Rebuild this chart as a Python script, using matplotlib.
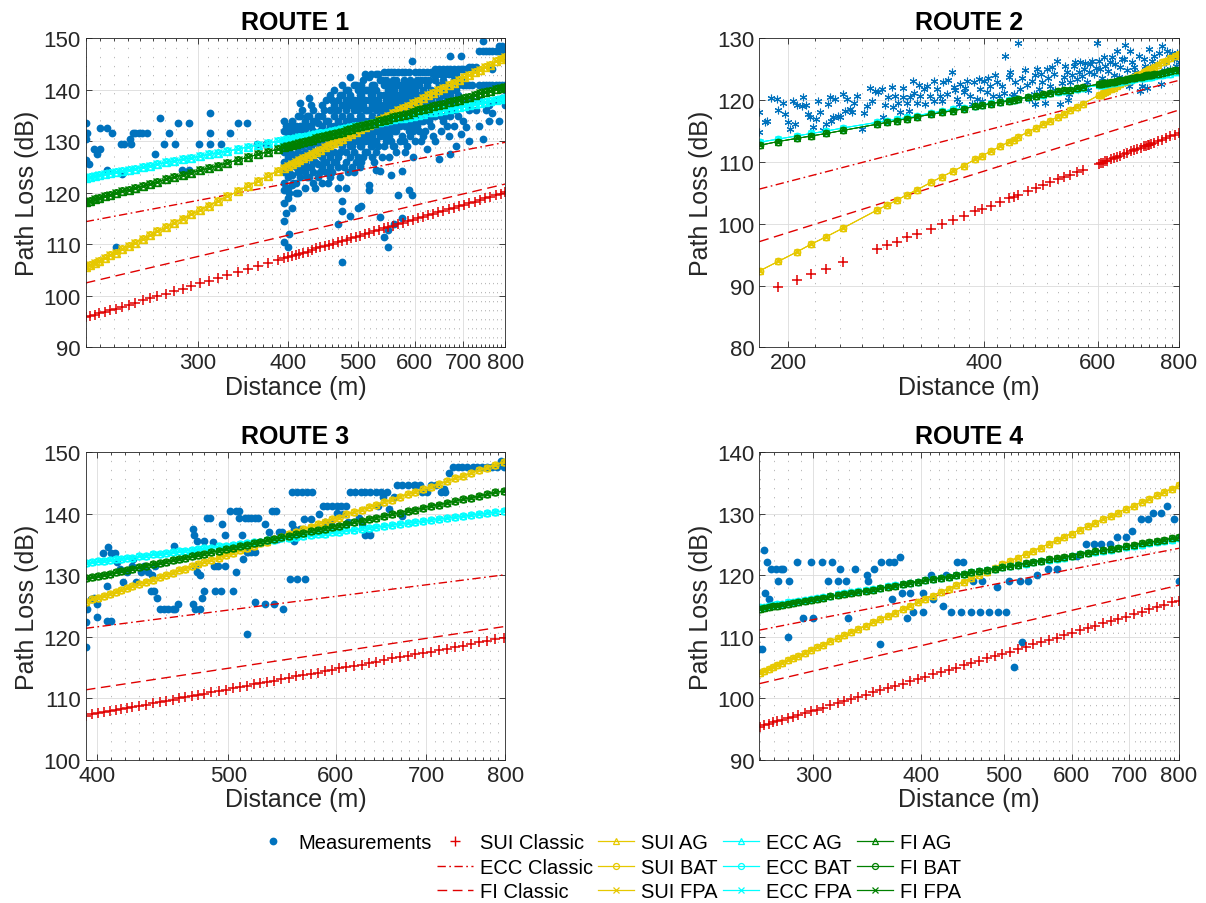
import matplotlib
matplotlib.use('Agg')
import matplotlib.pyplot as plt
from matplotlib.lines import Line2D
from matplotlib.ticker import FixedLocator, NullFormatter

plt.rcParams['font.family'] = ['Liberation Sans', 'DejaVu Sans']

# ---------------- ROUTE 1 ----------------
r1_xlim = (210, 800)
r1_ylim = (90, 150)
r1_xticks = [300, 400, 500, 600, 700, 800]
r1_yticks = [90, 100, 110, 120, 130, 140, 150]

r1_meas_low = [(210, 133.5), (210, 130.4), (211, 131.6), (210, 126.4), (212, 125.5), (215.6, 128.5),
               (217.5, 127.5), (220, 128.5), (220, 132.5), (225, 132.5), (228.6, 131.6), (225, 124.4),
               (235, 129.5), (237, 129.5), (242, 130.4), (244, 131.6), (246, 131.6), (249, 131.6),
               (251.5, 131.6), (255.6, 131.6), (242.5, 129.5), (236, 123.6), (261.6, 127.5), (265.8, 134.5),
               (269.5, 129.5), (274, 131.6), (279, 129.5), (282, 133.5), (285.7, 124.4), (292, 133.5),
               (292, 124.4), (301, 129.5), (312, 135.5), (312, 131.6), (312, 129.5), (323, 129.5),
               (333, 131.6), (341, 133.5), (351.5, 133.5), (363, 129.5), (373, 129.5), (231, 109.5)]

r1_col_d = [395, 400, 405, 410, 416, 422, 428, 434, 440, 446, 452, 458, 464, 470, 476, 482, 488, 494,
            500, 506, 512, 518, 524, 530, 537, 544, 550, 556, 562, 568, 575, 582, 588, 594, 600, 608,
            616, 624, 632, 640, 648, 656, 664, 672, 680, 688, 694, 700, 706, 712, 720, 728, 735, 745,
            752, 760, 768, 776, 784, 792, 800]
r1_col_pl = [
    [134, 132, 130, 128, 126, 124, 122, 120.5, 118, 114.5, 110.5],
    [133, 131, 129, 127, 125, 123, 121, 119, 109.5],
    [134, 132, 130, 127.5, 125.5, 123.5, 121.5, 117],
    [133, 131, 129, 127, 125, 122, 120],
    [137.5, 135, 133, 131, 129, 127, 125, 123],
    [134, 132, 130, 128, 126, 124, 121],
    [138.5, 135, 133, 131, 129, 127, 125, 123],
    [136, 134, 132, 130, 128, 126, 124, 122],
    [135, 133.5, 131.5, 129.5, 127.5, 125.5, 123],
    [137, 135, 133, 131, 129, 127, 125, 122],
    [138, 134, 132, 130, 128, 126, 124],
    [139, 136, 133, 131, 129, 127, 125, 123],
    [140, 137, 135, 133, 131, 128, 126],
    [138, 136, 134, 132, 130, 127, 125, 121, 114],
    [141, 139, 137, 135, 133, 131, 129, 118.5, 116.5, 106.5],
    [140, 138, 136, 134, 132, 130, 128, 126, 121],
    [142.5, 139, 137, 135, 133, 131, 129, 127, 115.5],
    [141, 138, 136, 134, 132, 130, 128, 124],
    [140, 138, 136, 134, 132, 130, 127, 117],
    [141, 139, 137, 135, 133, 131, 129, 126, 117.5],
    [143, 140, 138, 136, 134, 132, 130, 128],
    [142.5, 140, 138, 136, 134, 132, 130, 121.5, 120.5],
    [141, 139, 137, 135, 133, 131, 129, 127],
    [143, 140, 138, 136, 134, 132, 130, 128, 124.5],
    [142, 139, 137, 135, 133, 131, 124.3, 115.3],
    [143.5, 141, 139, 137, 135, 133, 131, 129, 111.5],
    [143.5, 140, 138, 136, 134, 132, 112.7, 109.5],
    [143.5, 141, 139, 137, 135, 133, 130, 123.5],
    [143.5, 140, 138, 136, 134, 132, 129, 114],
    [143.5, 141, 139, 137, 135, 133, 119.5],
    [143.5, 140, 138, 136, 134, 131, 124.3, 115.2],
    [143.5, 141, 139, 137, 135, 133, 128],
    [143.5, 140, 138, 136, 134, 132, 120.5],
    [145.5, 141, 139, 137, 135, 133, 119.5],
    [143.5, 140, 138, 136, 134, 130],
    [143.5, 141, 139, 137, 135, 132],
    [143.5, 140, 138, 136, 134, 131],
    [143.5, 141, 139, 137, 135, 128.5],
    [143.5, 140, 138, 136, 133],
    [144, 142, 139, 137, 135, 130],
    [144, 141, 138, 136, 126.5],
    [144, 142, 139, 137, 134],
    [144, 141, 138, 136, 133],
    [146.5, 144, 141, 139, 135, 127.5],
    [144, 142, 138, 136, 133],
    [144, 141, 139, 135],
    [146.5, 144, 142, 131.5],
    [144, 141, 138, 134],
    [144, 141, 132.7],
    [144.5, 141, 136, 130],
    [144.5, 141, 138],
    [144.5, 136],
    [147.5, 141, 138, 133],
    [149.5, 147.5, 141, 130.5],
    [147.5, 141, 136],
    [147.5, 141, 137, 134],
    [147.5, 144, 141, 135.5],
    [147.5, 141, 138],
    [148.5, 147.5, 141, 134],
    [148.5, 147.5, 141, 138.5],
    [148, 146.5, 141, 140, 137],
]
# points sitting between the columns above (fill of the dense cloud)
r1_fill_d = [398, 402, 407, 413, 419, 425, 431, 437, 443, 449, 455, 461, 467, 473, 479, 485, 491, 497,
             503, 509, 515, 521, 527, 534, 541, 547, 553, 559, 565, 572, 579, 585, 591, 597, 604, 612,
             620, 628, 636, 644, 652, 660, 668, 676, 684]
r1_fill_pl = [
    [133, 129, 125, 121, 116], [132, 128, 124, 120, 112], [133, 129, 126, 122],
    [135, 132, 128, 124, 120], [136, 133, 129, 125], [135, 131, 127, 123],
    [137, 133, 129, 125], [134, 130, 126, 121], [132, 128, 124],
    [136, 130, 126], [134, 128, 122], [138, 132, 124],
    [136, 130, 126], [139, 133, 128, 123], [137, 131, 125],
    [140, 134, 130, 124], [138, 133, 129, 125], [141, 137, 131, 126],
    [139, 135, 129, 125], [142, 137, 133, 127], [140, 136, 131, 128],
    [143, 139, 133, 129], [141, 137, 132, 126], [143, 138, 134, 129],
    [142, 136, 132, 127], [142, 138, 134, 130], [141, 137, 131, 127],
    [142, 139, 135, 129], [142, 138, 132, 128], [141, 137, 133, 130],
    [142, 139, 134, 130], [141, 137, 133, 129], [142, 138, 134, 131],
    [141, 137, 132, 127], [142, 138, 133], [142, 137, 134, 130],
    [142, 139, 136, 132], [142, 138, 134], [143, 139, 135, 131],
    [143, 140, 136], [143, 140, 135, 132], [143, 140, 135],
    [143, 140, 137, 131], [143, 140, 137], [143, 140, 137, 129],
]

r1_d = [210, 213, 216, 219, 223, 227, 231, 236, 241, 246, 252, 258, 264, 271, 278, 286, 294, 302,
        311, 320, 330, 341, 352, 364, 376, 388, 395, 400, 405, 410, 415, 420, 426, 432, 438, 444,
        450, 456, 462, 469, 476, 483, 490, 497, 504, 511, 519, 527, 535, 543, 551, 560, 569, 578,
        587, 596, 606, 616, 626, 636, 646, 657, 668, 679, 690, 702, 714, 726, 738, 750, 763, 776,
        789, 800]
r1_sui = [95.8, 96.1, 96.3, 96.6, 96.9, 97.2, 97.5, 97.9, 98.3, 98.7, 99.1, 99.5, 99.9, 100.4, 100.9,
          101.4, 101.9, 102.4, 102.9, 103.5, 104.0, 104.6, 105.2, 105.8, 106.4, 107.0, 107.3, 107.5,
          107.7, 108.0, 108.2, 108.4, 108.6, 108.9, 109.2, 109.4, 109.6, 109.9, 110.1, 110.4, 110.7,
          110.9, 111.2, 111.5, 111.7, 112.0, 112.2, 112.5, 112.8, 113.1, 113.3, 113.6, 113.9, 114.2,
          114.5, 114.7, 115.1, 115.4, 115.6, 115.9, 116.2, 116.5, 116.8, 117.1, 117.4, 117.7, 118.0,
          118.3, 118.6, 118.9, 119.2, 119.5, 119.8, 120.1]
r1_sui_t = [105.5, 105.9, 106.4, 106.8, 107.3, 107.9, 108.4, 109.1, 109.7, 110.3, 111.1, 111.8, 112.5,
            113.3, 114.1, 115.0, 115.8, 116.6, 117.5, 118.4, 119.3, 120.3, 121.3, 122.3, 123.3, 124.3,
            124.8, 125.2, 125.6, 126.0, 126.3, 126.7, 127.1, 127.6, 128.0, 128.4, 128.8, 129.2, 129.6,
            130.1, 130.5, 131.0, 131.4, 131.8, 132.3, 132.7, 133.2, 133.6, 134.1, 134.6, 135.0, 135.5,
            136.0, 136.5, 136.9, 137.4, 137.9, 138.4, 138.9, 139.4, 139.9, 140.4, 140.9, 141.4, 141.9,
            142.4, 142.9, 143.4, 143.9, 144.4, 144.9, 145.5, 146.0, 146.4]
r1_fi_t = [118.3, 118.5, 118.8, 119.0, 119.3, 119.6, 119.9, 120.3, 120.6, 120.9, 121.3, 121.7, 122.1,
           122.6, 123.0, 123.5, 123.9, 124.4, 124.8, 125.3, 125.8, 126.4, 126.9, 127.5, 128.0, 128.5,
           128.8, 129.0, 129.3, 129.5, 129.7, 129.9, 130.1, 130.3, 130.6, 130.8, 131.0, 131.2, 131.4,
           131.7, 131.9, 132.2, 132.4, 132.7, 132.9, 133.1, 133.4, 133.6, 133.9, 134.1, 134.4, 134.7,
           134.9, 135.2, 135.4, 135.7, 136.0, 136.2, 136.5, 136.8, 137.0, 137.3, 137.6, 137.9, 138.1,
           138.4, 138.7, 139.0, 139.3, 139.5, 139.8, 140.1, 140.4, 140.6]
r1_ecc_t = [122.9, 123.1, 123.2, 123.4, 123.6, 123.8, 124.0, 124.3, 124.5, 124.7, 125.0, 125.3, 125.6,
            125.9, 126.2, 126.5, 126.8, 127.1, 127.5, 127.8, 128.1, 128.5, 128.9, 129.3, 129.7, 130.0,
            130.2, 130.4, 130.5, 130.7, 130.8, 130.9, 131.1, 131.3, 131.4, 131.6, 131.7, 131.9, 132.0,
            132.2, 132.4, 132.6, 132.7, 132.9, 133.0, 133.2, 133.4, 133.6, 133.7, 133.9, 134.1, 134.3,
            134.5, 134.6, 134.8, 135.0, 135.2, 135.4, 135.6, 135.7, 135.9, 136.1, 136.3, 136.5, 136.7,
            136.9, 137.1, 137.3, 137.5, 137.7, 137.9, 138.1, 138.2, 138.4]
r1_edge = [210, 800]
r1_ecc_c = [114.4, 129.8]
r1_fi_c = [102.5, 121.7]

# ---------------- ROUTE 2 ----------------
r2_xlim = (180.5, 800)
r2_ylim = (80, 130)
r2_xticks = [200, 400, 600, 800]
r2_yticks = [80, 90, 100, 110, 120, 130]

r2_meas = [(180.5, 118.1), (180.5, 114.8), (184.2, 116.4), (185.7, 116.7), (187.9, 120.3), (191.9, 120.2),
           (193.1, 118.4), (196.1, 119.6), (200.1, 116.4), (201.3, 115.3), (203.7, 119.9), (206.1, 119.2),
           (209.8, 119.1), (213.1, 119.2), (214.9, 117.8), (216.1, 117.2), (218.7, 115.6), (220.8, 116.9),
           (223.9, 118.0), (226.6, 115.1), (228.5, 116.1), (230.7, 119.4), (232.0, 120.5), (234.8, 117.2),
           (236.1, 120.2), (239.0, 117.5), (240.4, 117.2), (243.3, 121.0), (246.2, 120.2), (248.6, 118.6),
           (250.6, 118.0), (255.1, 120.7), (259.6, 115.3), (264.3, 119.1), (269.0, 119.9), (272.3, 121.5),
           (275.5, 121.3), (278.8, 121.8), (282.1, 119.2), (285.4, 120.5), (288.8, 122.1), (292.3, 120.6),
           (295.7, 119.6), (297.5, 118.0), (301.0, 120.5), (304.6, 119.6), (308.2, 120.5), (311.9, 123.1),
           (315.6, 119.6), (319.4, 120.7), (323.2, 121.8), (327.0, 122.3), (330.9, 120.7), (334.9, 123.1),
           (338.8, 121.8), (342.9, 120.7), (346.9, 122.9), (351.1, 121.0), (357.4, 124.5), (359.5, 122.1),
           (363.8, 120.2), (368.2, 122.6), (372.5, 121.3), (377.0, 123.1), (381.5, 120.7), (386.0, 122.9),
           (390.6, 120.2), (395.2, 121.8), (400, 123.1), (404.8, 121.3), (409.6, 122.3), (416.9, 124.0),
           (421.9, 120.7), (426.9, 122.3), (432.0, 127.2), (437.1, 123.7), (442.3, 120.7), (447.6, 122.9),
           (451.9, 129.2), (455.7, 121.8), (463.9, 124.8), (469.4, 120.2), (474.9, 123.1), (480.5, 124.0),
           (486.3, 121.8), (492.2, 122.9), (497.9, 119.6), (500.9, 125.0), (506.9, 122.3), (512.9, 124.2),
           (519.1, 126.4), (525.3, 119.4), (531.5, 123.7), (537.8, 124.5), (544.2, 122.9), (550.7, 125.6),
           (557.2, 123.4), (563.9, 126.1), (570.6, 125.0), (577.4, 122.9), (584.3, 125.8), (591.2, 124.2),
           (598.3, 129.2), (605.4, 125.0), (612.6, 126.9), (619.9, 122.9), (627.3, 126.1), (634.7, 124.0),
           (642.3, 128.0), (650.0, 125.3), (657.7, 126.7), (661.6, 128.9), (669.5, 122.3), (677.4, 126.1),
           (685.3, 124.5), (693.7, 127.2), (702.0, 122.3), (710.3, 125.6), (718.8, 128.3), (727.4, 126.4),
           (736.1, 124.0), (744.9, 127.7), (753.7, 128.7), (762.7, 126.1), (771.5, 126.9), (781.0, 127.7),
           (790.4, 125.6), (800, 126.1), (697.8, 121.5), (714.5, 121.9), (749.3, 122.6),
           (198, 117.7), (205, 116.2), (211, 120.5), (222, 119.8), (233, 116.6), (245, 118.3), (253, 119.6),
           (262, 117.9), (267, 121.9), (280, 117.3), (290, 118.9), (300, 121.9), (307, 118.3), (313, 121.2),
           (318, 122.5), (325, 119.3), (336, 119.9), (345, 119.8), (353, 123.2), (362, 121.6), (366, 119.4),
           (375, 122.0), (384, 119.4), (393, 123.4), (398, 119.8), (407, 123.6), (413, 120.6), (419, 122.9),
           (430, 121.2), (440, 124.6), (445, 121.0), (458, 123.5), (466, 122.4), (478, 121.0), (484, 125.1),
           (490, 124.2), (503, 123.6), (510, 125.3), (516, 121.6), (528, 122.7), (534, 125.6), (541, 121.0),
           (547, 124.1), (554, 126.2), (561, 124.5), (567, 123.9), (574, 126.0), (581, 124.6), (588, 126.3),
           (595, 125.2), (602, 126.3), (609, 123.6), (616, 125.6), (623, 124.7), (631, 127.0), (638, 125.9),
           (646, 123.7), (654, 126.6), (665, 124.9), (673, 127.9), (681, 125.4), (689, 123.8), (706, 126.6),
           (723, 125.2), (732, 127.2), (740, 125.8), (758, 124.9), (767, 128.0), (776, 125.0), (786, 126.6),
           (795, 127.6), (580, 121.7), (620, 122.0), (660, 123.0), (540, 120.0), (480, 119.3)]

r2_d = [181, 193, 206, 217, 229, 243, 274, 284, 294, 305, 316, 332, 345, 359, 373, 388, 398, 410, 424,
        437, 445, 452, 469, 482, 494, 507, 521, 532, 544, 557, 569, 602, 606, 610, 615, 620, 628, 635,
        642, 650, 658, 666, 674, 682, 690, 698, 706, 712, 716, 720, 724, 732, 742, 754, 765, 776, 788, 800]
# SUI Classic starts at the second distance (193 m)
r2_sui = [89.7, 90.9, 91.8, 92.7, 93.8, 95.9, 96.5, 97.1, 97.8, 98.4, 99.2, 99.9, 100.6, 101.3, 102.0,
          102.4, 102.9, 103.5, 104.1, 104.4, 104.7, 105.3, 105.8, 106.2, 106.7, 107.2, 107.5, 107.9,
          108.3, 108.7, 109.7, 109.8, 109.9, 110.1, 110.2, 110.4, 110.6, 110.8, 111.0, 111.3, 111.5,
          111.7, 111.9, 112.1, 112.3, 112.5, 112.6, 112.7, 112.8, 112.9, 113.1, 113.4, 113.6, 113.9,
          114.2, 114.4, 114.7]
r2_sui_t = [92.4, 93.9, 95.4, 96.7, 97.9, 99.3, 102.2, 103.0, 103.8, 104.7, 105.5, 106.7, 107.6, 108.5,
            109.4, 110.4, 111.0, 111.7, 112.5, 113.2, 113.6, 114.0, 114.9, 115.5, 116.1, 116.7, 117.3,
            117.8, 118.4, 118.9, 119.4, 120.8, 120.9, 121.1, 121.3, 121.5, 121.8, 122.0, 122.3, 122.6,
            122.9, 123.1, 123.4, 123.7, 124.0, 124.3, 124.5, 124.7, 124.9, 125.0, 125.1, 125.4, 125.7,
            126.1, 126.4, 126.8, 127.1, 127.5]
r2_fi_t = [112.7, 113.3, 113.8, 114.2, 114.6, 115.1, 116.1, 116.4, 116.7, 117.0, 117.3, 117.7, 118.0,
           118.3, 118.6, 119.0, 119.2, 119.4, 119.7, 119.9, 120.1, 120.2, 120.5, 120.7, 121.0, 121.2,
           121.4, 121.6, 121.7, 121.9, 122.1, 122.6, 122.6, 122.7, 122.7, 122.8, 122.9, 123.0, 123.1,
           123.2, 123.3, 123.4, 123.5, 123.6, 123.7, 123.8, 123.9, 124.0, 124.0, 124.0, 124.1, 124.2,
           124.3, 124.4, 124.5, 124.7, 124.8, 124.9]
r2_ecc_t = [113.2, 113.7, 114.2, 114.6, 115.0, 115.5, 116.4, 116.7, 116.9, 117.2, 117.5, 117.9, 118.2,
            118.5, 118.7, 119.0, 119.2, 119.5, 119.7, 120.0, 120.1, 120.2, 120.5, 120.7, 120.9, 121.1,
            121.3, 121.5, 121.6, 121.8, 122.0, 122.4, 122.5, 122.5, 122.6, 122.6, 122.7, 122.8, 122.9,
            123.0, 123.1, 123.2, 123.3, 123.4, 123.5, 123.5, 123.6, 123.7, 123.7, 123.8, 123.8, 123.9,
            124.0, 124.1, 124.2, 124.3, 124.5, 124.6]
r2_edge = [180.5, 800]
r2_ecc_c = [105.6, 123.2]
r2_fi_c = [97.1, 118.4]

# ---------------- ROUTE 3 ----------------
r3_xlim = (392.6, 800)
r3_ylim = (100, 150)
r3_xticks = [400, 500, 600, 700, 800]
r3_yticks = [100, 110, 120, 130, 140, 150]

r3_meas = [(392.6, 118.3), (392.6, 122.5), (393.7, 124.5), (396, 126.2), (398, 126.4), (400, 125.4),
           (400, 123.3), (404.6, 133.6), (407, 128.3), (408, 134.6), (409.5, 133.6), (412.6, 133.6),
           (407, 122.6), (409.5, 122.6), (413.8, 132.1), (416, 131.0), (418.5, 128.9), (421, 130.5),
           (424.5, 131.6), (425.5, 132.7), (427.8, 128.9), (431, 130.5), (433.5, 131.6), (436, 130.5),
           (438.5, 127.5), (440.5, 127.5), (442.8, 126.4), (445, 124.5), (448.5, 124.5), (451.6, 124.5),
           (455, 124.5), (457, 124.5), (456, 134.8), (459, 125.4), (439, 130.0), (441.5, 131.6),
           (471, 137.5), (472, 136.5), (474, 135.6), (472, 133.8), (473, 131.6), (474, 130.5), (477, 130.0),
           (471, 125.4), (473, 124.5), (477, 124.5), (478, 126.4), (480, 127.5), (480, 135.6), (482, 139.4),
           (484.5, 139.4), (487, 135.5), (488, 131.6), (489, 127.5), (491.5, 131.6), (494, 127.5),
           (494.5, 138.4), (497, 131.6), (497.6, 136.5), (501.8, 140.5), (504, 127.5), (507, 130.5),
           (507, 140.5), (509.6, 140.5), (509.6, 139.4), (512, 136.5), (513, 132.7), (514.7, 139.4),
           (516, 133.8), (517, 139.4), (520, 139.4), (523, 139.4), (525.6, 139.4), (517.5, 133.8),
           (520, 133.8), (523, 133.8), (516.5, 120.5), (523, 125.6), (532.6, 125.4), (540.5, 125.4),
           (548.5, 124.5), (532.6, 138.4), (535.5, 137.0), (539, 140.5), (542, 140.5), (545, 137.0),
           (539, 135.9), (544, 135.9), (548, 137.0), (557.6, 138.4), (559, 135.6), (557, 143.5), (562, 143.5),
           (567, 143.5), (572, 143.5), (576.7, 143.5), (555.6, 129.4), (562, 129.4), (570, 129.4),
           (558.7, 137.5), (565, 137.5), (568.5, 139.2), (575, 139.2), (583.5, 140.0), (587, 141.3),
           (591.5, 141.3), (596, 141.3), (601, 141.3), (606, 141.3), (611, 141.3), (601, 140.2), (608, 140.0),
           (589, 138.6), (595, 138.6), (613, 138.6), (615.3, 143.5), (620.6, 143.5), (626, 143.5),
           (631.2, 143.5), (636.6, 143.5), (642.2, 143.5), (624, 139.4), (631, 136.5), (636.6, 136.5),
           (627.5, 138.4), (647.6, 143.5), (654.8, 143.5), (662, 142.8), (666, 144.6), (672, 144.6),
           (678, 144.6), (685, 144.6), (687, 144.6), (693, 144.6), (650.8, 142.8), (645, 141.3),
           (656.5, 140.8), (672, 139.7), (695, 143.5), (701, 143.5), (705, 144.6), (711, 144.6), (717, 143.5),
           (723, 143.5), (727.6, 146.7), (732, 147.6), (738, 147.6), (744, 147.6), (750.5, 147.6),
           (757, 147.6), (763.4, 147.6), (769.6, 147.6), (776, 147.6), (782.6, 147.6), (789.6, 147.6),
           (794, 148.6), (798.5, 147.6), (721, 144.0)]

r3_d = [393, 397, 401, 405, 409, 413, 417, 421, 425, 430, 435, 440, 445, 450, 455, 460, 465, 470, 475,
        480, 486, 492, 498, 504, 510, 516, 522, 528, 534, 540, 547, 554, 561, 568, 575, 582, 589, 596,
        603, 611, 619, 627, 635, 643, 651, 660, 669, 678, 687, 696, 705, 715, 725, 735, 745, 755, 765,
        776, 787, 798]
r3_sui = [107.2, 107.4, 107.6, 107.8, 107.9, 108.1, 108.3, 108.4, 108.6, 108.8, 109.0, 109.2, 109.4,
          109.6, 109.8, 110.0, 110.2, 110.4, 110.6, 110.8, 111.0, 111.2, 111.4, 111.7, 111.9, 112.1,
          112.3, 112.5, 112.7, 112.9, 113.1, 113.3, 113.6, 113.8, 114.0, 114.2, 114.4, 114.6, 114.9,
          115.1, 115.3, 115.5, 115.8, 116.0, 116.2, 116.5, 116.7, 116.9, 117.2, 117.4, 117.6, 117.9,
          118.1, 118.4, 118.6, 118.9, 119.1, 119.4, 119.6, 119.9]
r3_sui_t = [125.7, 126.1, 126.4, 126.7, 127.0, 127.3, 127.6, 127.9, 128.2, 128.6, 129.0, 129.3, 129.7,
            130.1, 130.4, 130.8, 131.1, 131.5, 131.8, 132.1, 132.5, 132.9, 133.3, 133.7, 134.1, 134.4,
            134.8, 135.2, 135.5, 135.9, 136.3, 136.7, 137.1, 137.5, 137.9, 138.3, 138.7, 139.1, 139.4,
            139.9, 140.3, 140.7, 141.1, 141.5, 141.9, 142.3, 142.8, 143.2, 143.6, 144.0, 144.4, 144.9,
            145.3, 145.8, 146.2, 146.6, 147.1, 147.5, 148.0, 148.4]
r3_fi_t = [129.5, 129.7, 129.9, 130.1, 130.3, 130.5, 130.7, 130.9, 131.1, 131.3, 131.6, 131.8, 132.0,
           132.2, 132.5, 132.7, 132.9, 133.1, 133.3, 133.5, 133.8, 134.0, 134.3, 134.5, 134.8, 135.0,
           135.2, 135.5, 135.7, 135.9, 136.2, 136.4, 136.7, 136.9, 137.2, 137.4, 137.6, 137.9, 138.1,
           138.4, 138.6, 138.9, 139.2, 139.4, 139.7, 139.9, 140.2, 140.5, 140.7, 141.0, 141.3, 141.5,
           141.8, 142.1, 142.4, 142.6, 142.9, 143.2, 143.5, 143.7]
r3_ecc_t = [132.0, 132.1, 132.3, 132.4, 132.5, 132.6, 132.7, 132.8, 132.9, 133.1, 133.2, 133.4, 133.5,
            133.6, 133.8, 133.9, 134.0, 134.1, 134.3, 134.4, 134.5, 134.7, 134.8, 135.0, 135.1, 135.3,
            135.4, 135.5, 135.7, 135.8, 136.0, 136.1, 136.3, 136.4, 136.6, 136.7, 136.8, 137.0, 137.1,
            137.3, 137.4, 137.6, 137.7, 137.9, 138.0, 138.2, 138.4, 138.5, 138.7, 138.8, 139.0, 139.2,
            139.3, 139.5, 139.6, 139.8, 140.0, 140.1, 140.3, 140.5]
r3_edge = [392.6, 800]
r3_ecc_c = [121.4, 130.1]
r3_fi_c = [111.4, 121.7]

# ---------------- ROUTE 4 ----------------
r4_xlim = (259.4, 800)
r4_ylim = (90, 140)
r4_xticks = [300, 400, 500, 600, 700, 800]
r4_yticks = [90, 100, 110, 120, 130, 140]

r4_meas = [(259.4, 108.0), (261.2, 108.0), (262.5, 124.1), (263.2, 117.1), (265, 122.1), (266, 116.2),
           (267.4, 121.0), (271, 121.0), (273, 119.1), (274.7, 121.0), (276.7, 121.0), (280.4, 110.0),
           (281, 119.1), (287.3, 122.1), (291.3, 113.1), (297.9, 122.1), (300, 113.1), (306.6, 122.1),
           (312.1, 119.1), (314.9, 122.1), (320.6, 119.1), (322, 121.0), (327, 119.1), (329.4, 113.1),
           (335.4, 121.0), (346.1, 120.1), (347.7, 119.1), (352.5, 121.0), (359, 108.9), (359.7, 122.1),
           (367.4, 122.1), (372.6, 122.1), (370.5, 116.2), (378.5, 123.0), (380.1, 117.1), (385.2, 113.1),
           (388.8, 117.1), (392.3, 114.1), (402.1, 117.1), (402.9, 114.1), (410.9, 120.1), (413.6, 116.2),
           (424.6, 115.1), (428.4, 120.1), (434.1, 114.1), (440.6, 122.1), (448.6, 122.1), (445.8, 114.1),
           (459.7, 119.1), (457.7, 114.1), (469.6, 114.1), (471.7, 119.1), (480.3, 114.1), (491.2, 118.1),
           (492.4, 114.1), (503.1, 114.1), (506.7, 119.1), (513.5, 105.1), (522.2, 119.1), (524.5, 109.1),
           (534, 119.1), (546.9, 120.1), (563.5, 121.0), (576.1, 121.0), (608.1, 123.2), (622.9, 125.1),
           (636.3, 125.1), (649, 125.1), (664.2, 125.1), (677.6, 126.2), (693.2, 126.2), (706.1, 127.2),
           (722.6, 129.2), (736.3, 129.2), (746.5, 130.1), (761.7, 130.1), (774.8, 131.2), (789.2, 129.2),
           (800, 119.1)]

r4_d = [260, 263, 266, 269, 272, 276, 280, 284, 288, 293, 298, 303, 308, 314, 320, 326, 332, 338, 345,
        352, 359, 366, 373, 381, 389, 397, 405, 413, 422, 431, 440, 449, 458, 468, 478, 488, 498, 508,
        519, 530, 541, 552, 564, 576, 588, 600, 613, 626, 639, 652, 666, 680, 694, 709, 724, 739, 754,
        769, 785, 800]
r4_sui = [95.4, 95.7, 95.9, 96.1, 96.3, 96.5, 96.8, 97.0, 97.3, 97.6, 97.9, 98.2, 98.5, 98.9, 99.2,
          99.6, 99.9, 100.2, 100.6, 101.0, 101.3, 101.7, 102.0, 102.4, 102.8, 103.1, 103.5, 103.9,
          104.3, 104.6, 105.0, 105.4, 105.7, 106.1, 106.5, 106.9, 107.3, 107.6, 108.0, 108.4, 108.8,
          109.1, 109.5, 109.9, 110.3, 110.7, 111.1, 111.4, 111.8, 112.2, 112.6, 112.9, 113.3, 113.7,
          114.1, 114.5, 114.8, 115.2, 115.6, 115.9]
r4_sui_t = [104.2, 104.5, 104.8, 105.1, 105.4, 105.8, 106.2, 106.5, 106.9, 107.4, 107.9, 108.3, 108.7,
            109.3, 109.8, 110.3, 110.8, 111.3, 111.8, 112.4, 112.9, 113.4, 113.9, 114.5, 115.1, 115.6,
            116.2, 116.7, 117.3, 117.8, 118.4, 119.0, 119.5, 120.1, 120.6, 121.2, 121.8, 122.3, 122.9,
            123.5, 124.0, 124.5, 125.1, 125.7, 126.3, 126.8, 127.4, 128.0, 128.5, 129.1, 129.6, 130.2,
            130.8, 131.3, 131.9, 132.4, 133.0, 133.5, 134.1, 134.6]
r4_fi_t = [114.6, 114.7, 114.9, 115.0, 115.1, 115.2, 115.4, 115.5, 115.7, 115.9, 116.0, 116.2, 116.4,
           116.6, 116.8, 117.0, 117.1, 117.3, 117.5, 117.7, 117.9, 118.1, 118.3, 118.6, 118.8, 119.0,
           119.2, 119.4, 119.6, 119.8, 120.0, 120.3, 120.5, 120.7, 120.9, 121.1, 121.3, 121.5, 121.7,
           122.0, 122.2, 122.4, 122.6, 122.8, 123.0, 123.2, 123.5, 123.7, 123.9, 124.1, 124.3, 124.5,
           124.7, 125.0, 125.2, 125.4, 125.6, 125.8, 126.0, 126.2]
r4_ecc_t = [114.8, 114.9, 115.0, 115.2, 115.3, 115.4, 115.6, 115.7, 115.8, 116.0, 116.2, 116.3, 116.5,
            116.7, 116.9, 117.1, 117.3, 117.4, 117.6, 117.8, 118.0, 118.2, 118.4, 118.6, 118.8, 119.0,
            119.2, 119.4, 119.6, 119.8, 120.1, 120.3, 120.5, 120.7, 120.9, 121.1, 121.3, 121.5, 121.7,
            121.9, 122.1, 122.3, 122.5, 122.7, 122.9, 123.1, 123.4, 123.6, 123.8, 124.0, 124.2, 124.4,
            124.6, 124.8, 125.0, 125.2, 125.4, 125.6, 125.8, 126.0]
r4_edge = [259.4, 800]
r4_ecc_c = [111.1, 124.4]
r4_fi_c = [102.4, 118.4]

legend_labels = ['Measurements', 'SUI Classic', 'ECC Classic', 'FI Classic',
                 'SUI AG', 'SUI BAT', 'SUI FPA', 'ECC AG', 'ECC BAT', 'ECC FPA',
                 'FI AG', 'FI BAT', 'FI FPA']

# colours
C_MEAS = '#0072BD'
C_RED = '#E00000'
C_SUI = '#E6C800'
C_ECC = '#00FFFF'
C_FI = '#008000'
AX_COL = '#262626'


def style_axes(ax, xlim, ylim, xticks, yticks, minor_step, title):
    ax.set_xscale('log')
    ax.set_xlim(*xlim)
    ax.set_ylim(*ylim)
    ax.set_xticks(xticks)
    ax.set_xticklabels([str(v) for v in xticks])
    minors = [v for v in range(100, 900, minor_step) if xlim[0] <= v <= xlim[1] and v not in xticks]
    ax.xaxis.set_minor_locator(FixedLocator(minors))
    ax.xaxis.set_minor_formatter(NullFormatter())
    ax.set_yticks(yticks)
    ax.set_axisbelow(True)
    ax.grid(True, which='major', color='#dcdcdc', lw=0.6)
    ax.grid(True, which='minor', axis='x', color='#b8b8b8', lw=0.7, linestyle=(0, (1.3, 8)))
    ax.tick_params(which='both', direction='in', top=True, right=True, colors=AX_COL,
                   labelsize=16, width=0.6)
    ax.tick_params(which='major', length=4)
    ax.tick_params(which='minor', length=2.5)
    for s in ax.spines.values():
        s.set_color(AX_COL)
        s.set_linewidth(0.6)
    ax.set_xlabel('Distance (m)', fontsize=18, labelpad=1, color=AX_COL)
    ax.set_ylabel('Path Loss (dB)', fontsize=18, labelpad=3, color=AX_COL)
    ax.set_title(title, fontsize=18, fontweight='bold', pad=7)


def draw_route(ax, meas_d, meas_pl, star, d, sui_d, sui, sui_t, ecc_t, fi_t, edge, ecc_c, fi_c,
               plus_ms=6.5, tuned_ms=4.6):
    if star:
        ax.plot(meas_d, meas_pl, linestyle='none', marker=(6, 2, 0), ms=5.5, mew=0.8, color=C_MEAS)
    else:
        ax.plot(meas_d, meas_pl, linestyle='none', marker='o', ms=5.6, mew=0, color=C_MEAS)
    ax.plot(sui_d, sui, linestyle='none', marker='+', ms=plus_ms, mew=1.1, color=C_RED)
    ax.plot(edge, ecc_c, color=C_RED, lw=1.0, dashes=[6, 2.5, 1.2, 2.5])
    ax.plot(edge, fi_c, color=C_RED, lw=1.0, dashes=[7, 4])
    for vals, col in ((sui_t, C_SUI), (ecc_t, C_ECC), (fi_t, C_FI)):
        for mk in ('^', 'o', 'x'):
            ax.plot(d, vals, color=col, lw=0.7, marker=mk, ms=tuned_ms, mew=1.0, mfc='none')


fig = plt.figure(figsize=(12.06, 9.04), dpi=100)
ax1 = fig.add_axes([0.0711, 0.6147, 0.3477, 0.3418])
ax2 = fig.add_axes([0.6296, 0.6147, 0.3480, 0.3418])
ax3 = fig.add_axes([0.0711, 0.1582, 0.3477, 0.3404])
ax4 = fig.add_axes([0.6296, 0.1582, 0.3480, 0.3404])

# route 1 measurements: sparse part plus the dense columns
r1_md = [p[0] for p in r1_meas_low]
r1_mp = [p[1] for p in r1_meas_low]
for cols_d, cols_pl in ((r1_col_d, r1_col_pl), (r1_fill_d, r1_fill_pl)):
    for dd, col in zip(cols_d, cols_pl):
        for v in col:
            r1_md.append(dd)
            r1_mp.append(v)

draw_route(ax1, r1_md, r1_mp, False, r1_d, r1_d, r1_sui, r1_sui_t, r1_ecc_t, r1_fi_t,
           r1_edge, r1_ecc_c, r1_fi_c, plus_ms=7.5, tuned_ms=5.4)
style_axes(ax1, r1_xlim, r1_ylim, r1_xticks, r1_yticks, 10, 'ROUTE 1')

draw_route(ax2, [p[0] for p in r2_meas], [p[1] for p in r2_meas], True, r2_d, r2_d[1:], r2_sui,
           r2_sui_t, r2_ecc_t, r2_fi_t, r2_edge, r2_ecc_c, r2_fi_c)
style_axes(ax2, r2_xlim, r2_ylim, r2_xticks, r2_yticks, 20, 'ROUTE 2')

draw_route(ax3, [p[0] for p in r3_meas], [p[1] for p in r3_meas], False, r3_d, r3_d, r3_sui,
           r3_sui_t, r3_ecc_t, r3_fi_t, r3_edge, r3_ecc_c, r3_fi_c, tuned_ms=5.0)
style_axes(ax3, r3_xlim, r3_ylim, r3_xticks, r3_yticks, 10, 'ROUTE 3')

draw_route(ax4, [p[0] for p in r4_meas], [p[1] for p in r4_meas], False, r4_d, r4_d, r4_sui,
           r4_sui_t, r4_ecc_t, r4_fi_t, r4_edge, r4_ecc_c, r4_fi_c)
style_axes(ax4, r4_xlim, r4_ylim, r4_xticks, r4_yticks, 10, 'ROUTE 4')

# legend, filled column by column with two blank slots under Measurements
h_meas = Line2D([], [], linestyle='none', marker='o', ms=5.6, mew=0, color=C_MEAS)
h_sui = Line2D([], [], linestyle='none', marker='+', ms=6.5, mew=1.0, color=C_RED)
h_ecc = Line2D([], [], color=C_RED, lw=1.0, dashes=[6, 2.5, 1.2, 2.5])
h_fi = Line2D([], [], color=C_RED, lw=1.0, dashes=[7, 4])
tuned = []
for col in (C_SUI, C_ECC, C_FI):
    for mk in ('^', 'o', 'x'):
        tuned.append(Line2D([], [], color=col, lw=0.9, marker=mk, ms=4.3, mew=0.9, mfc='none'))
blank = Line2D([], [], linestyle='none')
handles = [h_meas, blank, blank, h_sui, h_ecc, h_fi] + tuned
labels = [legend_labels[0], '', ''] + legend_labels[1:]
fig.legend(handles, labels, ncol=5, loc='upper left', bbox_to_anchor=(0.2114, 0.0770),
           frameon=False, fontsize=14.5, handlelength=1.8, handletextpad=0.35,
           columnspacing=0.25, labelspacing=0.27, borderpad=0, borderaxespad=0)

fig.savefig('out.png', dpi=100, facecolor='white')
